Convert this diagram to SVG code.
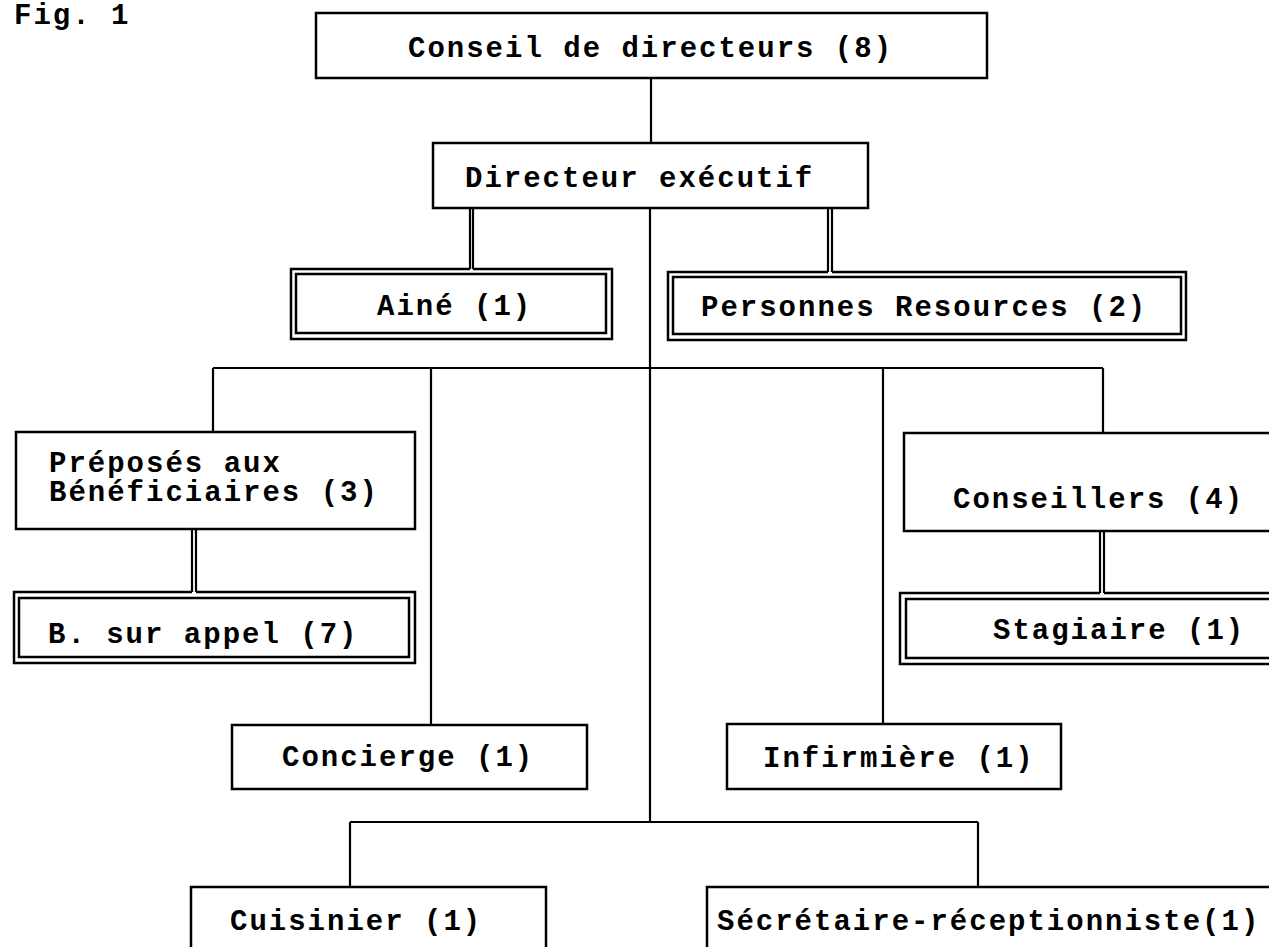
<svg xmlns="http://www.w3.org/2000/svg" width="1269" height="947" viewBox="0 0 1269 947">
<style>
.bx{fill:none;stroke:#000;stroke-width:2.5}
.ln{fill:none;stroke:#000;stroke-width:2.2}
.t{font-family:"Liberation Mono","Courier New",monospace;font-size:29px;letter-spacing:2px;font-weight:bold;fill:#000}
</style>
<rect width="1269" height="947" fill="#fff"/>
<text class="t" x="14" y="24">Fig. 1</text>
<g id="connectors">
<path class="ln" d="M651,78 V143"/>
<path class="ln" d="M470,208 V269 M473,208 V269"/>
<path class="ln" d="M828,208 V272 M832,208 V272"/>
<path class="ln" d="M650,208 V822"/>
<path class="ln" d="M213,368 H1103"/>
<path class="ln" d="M213,368 V432 M431,368 V725 M883,368 V724 M1103,368 V433"/>
<path class="ln" d="M192,529 V592 M196,529 V592"/>
<path class="ln" d="M1100,531 V593 M1104,531 V593"/>
<path class="ln" d="M350,822 H978 M350,822 V887 M978,822 V887"/>
</g>
<g id="conseil">
<rect class="bx" x="316" y="13" width="671" height="65"/>
<text class="t" x="408" y="57">Conseil de directeurs (8)</text>
</g>
<g id="directeur">
<rect class="bx" x="433" y="143" width="435" height="65"/>
<text class="t" x="465" y="187">Directeur exécutif</text>
</g>
<g id="aine">
<path class="bx" d="M473,269 H612 V339 H291 V269 H470"/>
<rect class="bx" x="296" y="274" width="310" height="59"/>
<text class="t" x="377" y="315">Ainé (1)</text>
</g>
<g id="personnes">
<path class="bx" d="M832,272 H1186 V340 H668 V272 H828"/>
<rect class="bx" x="673" y="277" width="508" height="57"/>
<text class="t" x="701" y="316">Personnes Resources (2)</text>
</g>
<g id="preposes">
<rect class="bx" x="16" y="432" width="399" height="97"/>
<text class="t" x="49" y="472">Préposés aux</text>
<text class="t" x="49" y="501">Bénéficiaires (3)</text>
</g>
<g id="bsurappel">
<path class="bx" d="M196,592 H415 V663 H14 V592 H192"/>
<rect class="bx" x="19" y="598" width="390" height="59"/>
<text class="t" x="48" y="643">B. sur appel (7)</text>
</g>
<g id="conseillers">
<rect class="bx" x="904" y="433" width="386" height="98"/>
<text class="t" x="953" y="508">Conseillers (4)</text>
</g>
<g id="stagiaire">
<path class="bx" d="M1104,593 H1290 M1100,593 H900 V664 H1290"/>
<path class="bx" d="M1290,599 H906 V658 H1290"/>
<text class="t" x="993" y="639">Stagiaire (1)</text>
</g>
<g id="concierge">
<rect class="bx" x="232" y="725" width="355" height="64"/>
<text class="t" x="282" y="766">Concierge (1)</text>
</g>
<g id="infirmiere">
<rect class="bx" x="727" y="724" width="334" height="65"/>
<text class="t" x="763" y="767">Infirmière (1)</text>
</g>
<g id="cuisinier">
<rect class="bx" x="191" y="887" width="355" height="80"/>
<text class="t" x="230" y="930">Cuisinier (1)</text>
</g>
<g id="secretaire">
<rect class="bx" x="707" y="887" width="600" height="80"/>
<text class="t" x="717" y="930">Sécrétaire-réceptionniste(1)</text>
</g>
</svg>
